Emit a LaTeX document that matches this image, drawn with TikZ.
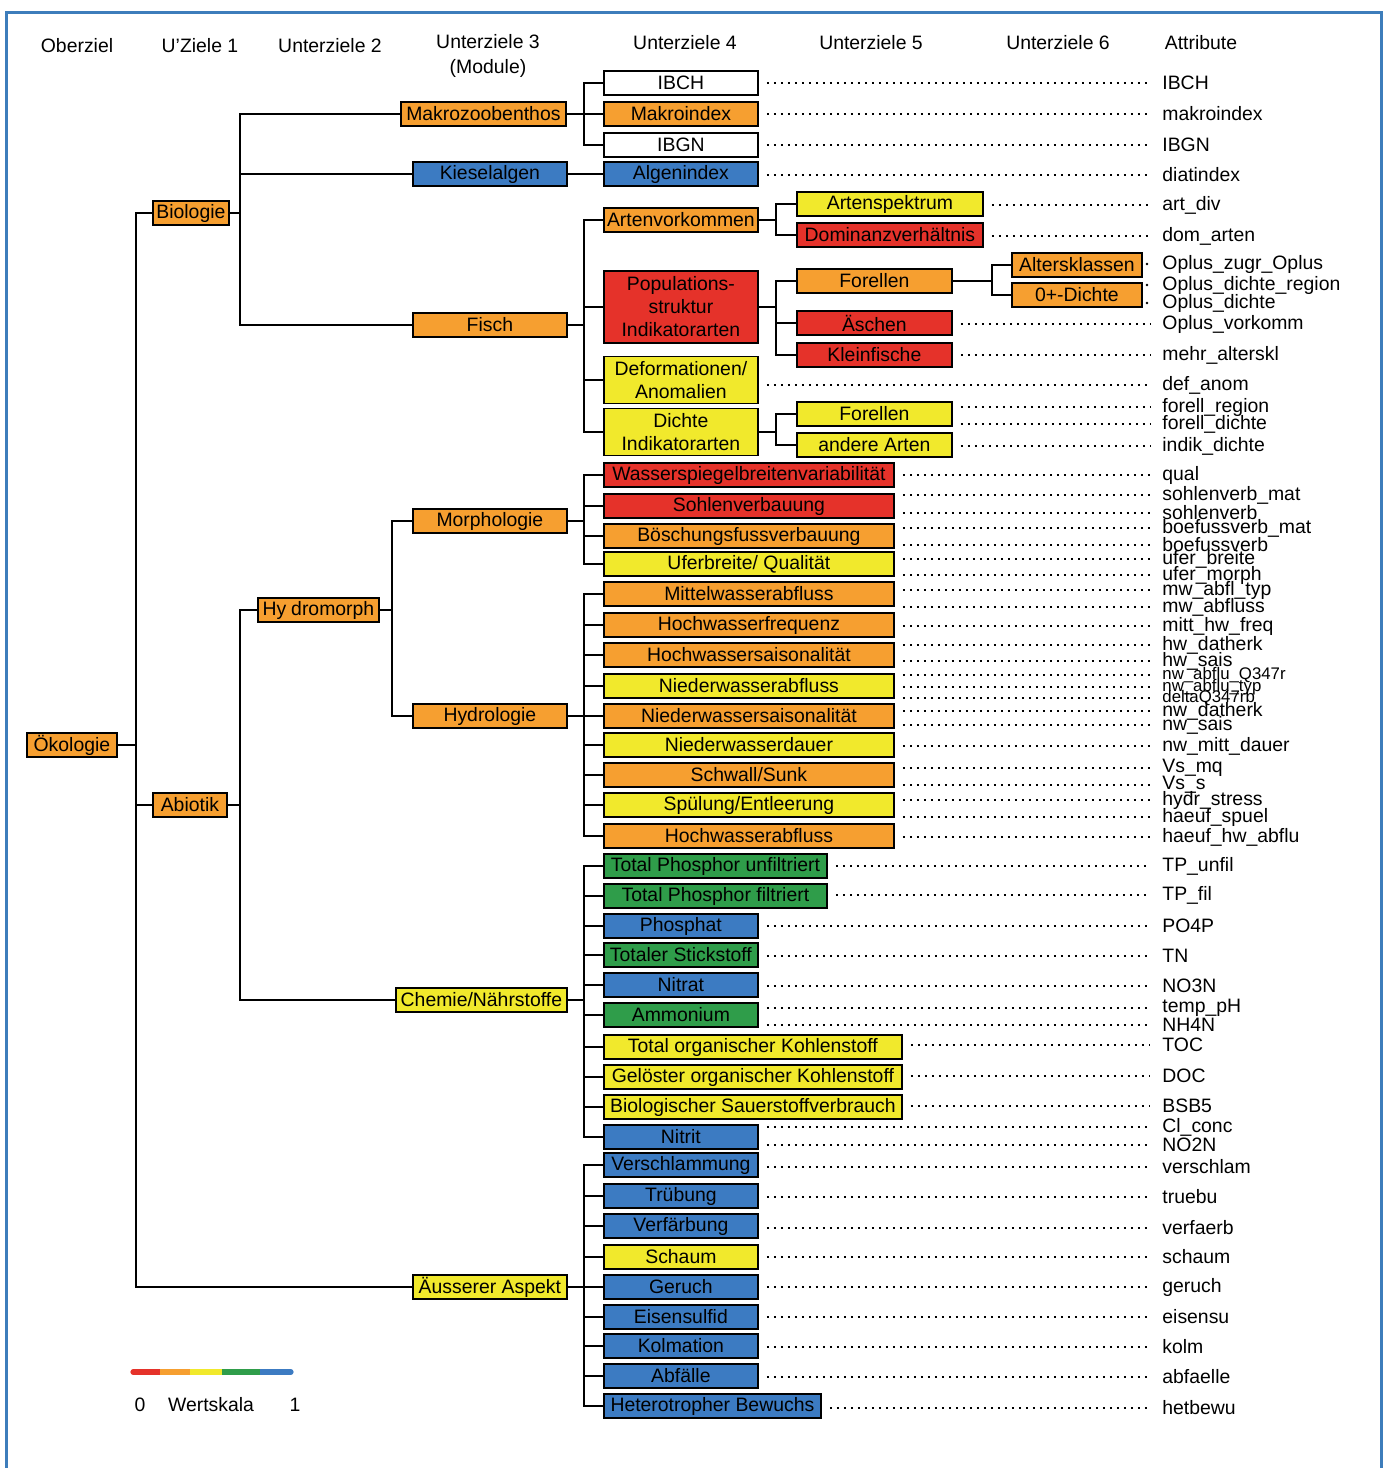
\documentclass[tikz,border=0pt]{standalone}
\usepackage{fontspec}
\setmainfont{Liberation Sans}
\usepackage{xcolor}
\usepackage{tikz}

\definecolor{wred}{HTML}{E5322A}
\definecolor{worange}{HTML}{F69F30}
\definecolor{wyellow}{HTML}{F1E92C}
\definecolor{wgreen}{HTML}{2F9D4A}
\definecolor{wblue}{HTML}{3C7BC2}
\definecolor{frameblue}{HTML}{3D7DBB}

\begin{document}
\begin{tikzpicture}[x=0.5pt, y=-0.5pt,
	every node/.style={font=\fontsize{9.7pt}{11.5pt}\selectfont},
	box/.style={draw, line width=0.9pt, fill=#1, anchor=west, minimum height=12pt, inner sep=0pt, align=center},
	bw/.style={minimum width=#1*0.5pt},
	link/.style={line width=1pt},
	dotline/.style={line width=1.4pt, dash pattern=on 1.3pt off 2.2pt, shorten <=4pt},
	attr/.style={anchor=west, inner sep=0pt, inner xsep=6pt},
	small/.style={font=\fontsize{8.4pt}{10pt}\selectfont}]

			\useasboundingbox (0,0) rectangle (1386,1468);
			\draw[frameblue, line width=1.5pt] (6,1480) -- (6,12) -- (1381,12) -- (1381,1480);

			% Headings
			\node (h0) at (77,46) {Oberziel};
			\node (h1) at (200,46) {U'Ziele 1};
			\node (h2) at (330,46) {Unterziele 2};
			\node[align=center] (h3) at (488,56) {Unterziele 3\\[1pt](Module)};
			\node (h4) at (685,43) {Unterziele 4};
			\node (h5) at (871,43) {Unterziele 5};
			\node (h6) at (1058,43) {Unterziele 6};
			\node (h7) at (1201,43) {Attribute};

			% Make boxes, left part
			\node[box=worange, bw=90] (oeko) at (26,745) {Ökologie};
			\node[box=worange, bw=76] (bio) at (152,213) {Biologie};
			\node[box=worange, bw=74] (abio) at (152,805) {Abiotik};
			\node[box=worange, bw=165] (makro) at (400,114) {Makrozoobenthos};
			\node[box=wblue, bw=154] (kiesel) at (412,174) {Kieselalgen};
			\node[box=worange, bw=154] (fisch) at (412,325) {Fisch};
			\node[box=worange, bw=121] (hydro) at (257,610) {Hy\kern2.5pt dromorph};
			\node[box=wyellow, bw=171] (chemie) at (395,1000) {Chemie/Nährstoffe};
			\node[box=wyellow, bw=154] (aeuss) at (412,1287) {Äusserer Aspekt};
			\node[box=worange, bw=154] (morph) at (412,521) {Morphologie};
			\node[box=worange, bw=154] (hydrol) at (412,716) {Hydrologie};

			% Make boxes, Unterziele 4
			\node[box=worange, bw=154] (artvork) at (603,220) {Artenvorkommen};
			\node[box=wred, bw=154, minimum height=36pt] (popstr) at (603,307) {Populations-\\struktur\\Indikatorarten};
			\node[box=wyellow, bw=154, minimum height=23.5pt] (deform) at (603,380) {Deformationen/\\Anomalien};
			\node[box=wyellow, bw=154, minimum height=23.5pt] (dichte) at (603,432) {Dichte\\Indikatorarten};
			\foreach \name/\yy/\col/\wid/\txt in {
				ibch/83/white/154/IBCH, makroidx/114/worange/154/Makroindex, ibgn/145/white/154/IBGN,
				algen/174/wblue/154/Algenindex,
				wsbv/475/wred/290/Wasserspiegelbreitenvariabilität, sohlen/506/wred/290/Sohlenverbauung,
				boesch/536/worange/290/Böschungsfussverbauung, ufer/564/wyellow/290/{Uferbreite/ Qualität},
				mwa/594/worange/290/Mittelwasserabfluss, hwf/625/worange/290/Hochwasserfrequenz,
				hws/655/worange/290/Hochwassersaisonalität, nwa/686/wyellow/290/Niederwasserabfluss,
				nws/716/worange/290/Niederwassersaisonalität, nwd/745/wyellow/290/Niederwasserdauer,
				schwall/775/worange/290/{Schwall/Sunk}, spuel/805/wyellow/290/{Spülung/Entleerung},
				hwa/836/worange/290/Hochwasserabfluss,
				tpu/866/wgreen/223/Total Phosphor unfiltriert, tpf/896/wgreen/223/Total Phosphor filtriert,
				phosphat/926/wblue/154/Phosphat, tn/955/wgreen/154/Totaler Stickstoff,
				nitrat/985/wblue/154/Nitrat, ammon/1015/wgreen/154/Ammonium,
				toc/1047/wyellow/298/Total organischer Kohlenstoff, doc/1077/wyellow/298/Gelöster organischer Kohlenstoff,
				bsb/1107/wyellow/298/Biologischer Sauerstoffverbrauch, nitrit/1137/wblue/154/Nitrit,
				verschl/1165/wblue/154/Verschlammung, trueb/1196/wblue/154/Trübung,
				verf/1226/wblue/154/Verfärbung, schaum/1257/wyellow/154/Schaum,
				geruch/1287/wblue/154/Geruch, eisen/1317/wblue/154/Eisensulfid,
				kolm/1346/wblue/154/Kolmation, abf/1376/wblue/154/Abfälle,
				hetb/1406/wblue/217/Heterotropher Bewuchs}
				\node[box=\col, bw=\wid] (\name) at (603,\yy) {\txt};

			% Make boxes, Unterziele 5 and 6
			\node[box=wyellow, bw=186] (artspek) at (796,204) {Artenspektrum};
			\node[box=wred, bw=186] (domin) at (796,235) {Dominanzverhältnis};
			\node[box=worange, bw=155] (forell) at (796,281) {Forellen};
			\node[box=wred, bw=155] (aesch) at (796,323) {Äschen};
			\node[box=wred, bw=155] (kleinf) at (796,355) {Kleinfische};
			\node[box=wyellow, bw=155] (forelld) at (796,414) {Forellen};
			\node[box=wyellow, bw=155] (andere) at (796,445) {andere Arten};
			\node[box=worange, bw=130] (alterskl) at (1011,265) {Altersklassen};
			\node[box=worange, bw=130] (nulld) at (1011,295) {0+-Dichte};

			% Make lines
			\coordinate (b0) at (136,0);
			\coordinate (b1) at (240,0);
			\coordinate (b2) at (392,0);
			\coordinate (b3) at (584,0);
			\coordinate (b4) at (776,0);
			\coordinate (b5) at (992,0);
			\foreach \p/\kids/\b in {
				oeko/{bio,abio,aeuss}/b0, bio/{makro,kiesel,fisch}/b1, abio/{hydro,chemie}/b1,
				hydro/{morph,hydrol}/b2,
				makro/{ibch,makroidx,ibgn}/b3, kiesel/{algen}/b3, fisch/{artvork,popstr,deform,dichte}/b3,
				morph/{wsbv,sohlen,boesch,ufer}/b3,
				hydrol/{mwa,hwf,hws,nwa,nws,nwd,schwall,spuel,hwa}/b3,
				chemie/{tpu,tpf,phosphat,tn,nitrat,ammon,toc,doc,bsb,nitrit}/b3,
				aeuss/{verschl,trueb,verf,schaum,geruch,eisen,kolm,abf,hetb}/b3,
				artvork/{artspek,domin}/b4, popstr/{forell,aesch,kleinf}/b4, dichte/{forelld,andere}/b4,
				forell/{alterskl,nulld}/b5}
				\foreach \c in \kids
					\draw[link] (\p.east) -| (\b |- \c.west) -- (\c.west);

			% Attributes
			\foreach \src/\yy/\txt in {
				ibch/83/IBCH, makroidx/114/makroindex, ibgn/145/IBGN, algen/175/diatindex,
				artspek/205/art\_div, domin/236/dom\_arten,
				aesch/324/Oplus\_vorkomm, kleinf/355/mehr\_alterskl, deform/385/def\_anom,
				forelld/407/forell\_region, forelld/424/forell\_dichte, andere/446/indik\_dichte,
				wsbv/475/qual, sohlen/495/sohlenverb\_mat, sohlen/513/sohlenverb,
				boesch/528/boefussverb\_mat, boesch/545/boefussverb,
				ufer/559/ufer\_breite, ufer/575/ufer\_morph,
				mwa/590/mw\_abfl\_typ, mwa/607/mw\_abfluss, hwf/626/mitt\_hw\_freq,
				hws/645/hw\_datherk, hws/661/hw\_sais,
				nws/711/nw\_datherk, nws/725/nw\_sais, nwd/746/nw\_mitt\_dauer,
				schwall/768/Vs\_mq, schwall/785/Vs\_s, spuel/800/hydr\_stress, spuel/817/haeuf\_spuel,
				hwa/837/haeuf\_hw\_abflu,
				tpu/866/TP\_unfil, tpf/895/TP\_fil, phosphat/926/PO4P, tn/956/TN, nitrat/986/NO3N,
				ammon/1008/temp\_pH, ammon/1025/NH4N, toc/1045/TOC, doc/1076/DOC, bsb/1106/BSB5,
				nitrit/1127/Cl\_conc, nitrit/1145/NO2N,
				verschl/1167/verschlam, trueb/1197/truebu, verf/1228/verfaerb, schaum/1257/schaum,
				geruch/1287/geruch, eisen/1317/eisensu, kolm/1347/kolm, abf/1377/abfaelle, hetb/1408/hetbewu}
			{
				\node[attr] (att\yy) at (1150,\yy) {\txt};
				\draw[dotline] (\src.east |- att\yy.west) -- (att\yy.west);
			}
			\foreach \yy/\txt in {675/nw\_abflu\_Q347r, 687/nw\_abflu\_typ, 698/deltaQ347rb}
			{
				\node[attr, small] (att\yy) at (1150,\yy) {\txt};
				\draw[dotline] (nwa.east |- att\yy.west) -- (att\yy.west);
			}
			\foreach \yy/\txt in {264/Oplus\_zugr\_Oplus, 285/Oplus\_dichte\_region, 303/Oplus\_dichte}
			{
				\node[attr] (att\yy) at (1150,\yy) {\txt};
				\fill ([xshift=-1.5pt]att\yy.west) circle (0.7pt);
			}

			% Legend
			\draw[wred, line width=2.6pt, line cap=round] (133,1372) -- (160,1372);
			\draw[wblue, line width=2.6pt, line cap=round] (260,1372) -- (291,1372);
			\draw[worange, line width=2.6pt] (160,1372) -- (190,1372);
			\draw[wyellow, line width=2.6pt] (190,1372) -- (222,1372);
			\draw[wgreen, line width=2.6pt] (222,1372) -- (260,1372);
			\node (zero) at (140,1405) {0};
			\node (wskala) at (211,1405) {Wertskala};
			\node (one) at (295,1405) {1};
		\end{tikzpicture}
\end{document}
